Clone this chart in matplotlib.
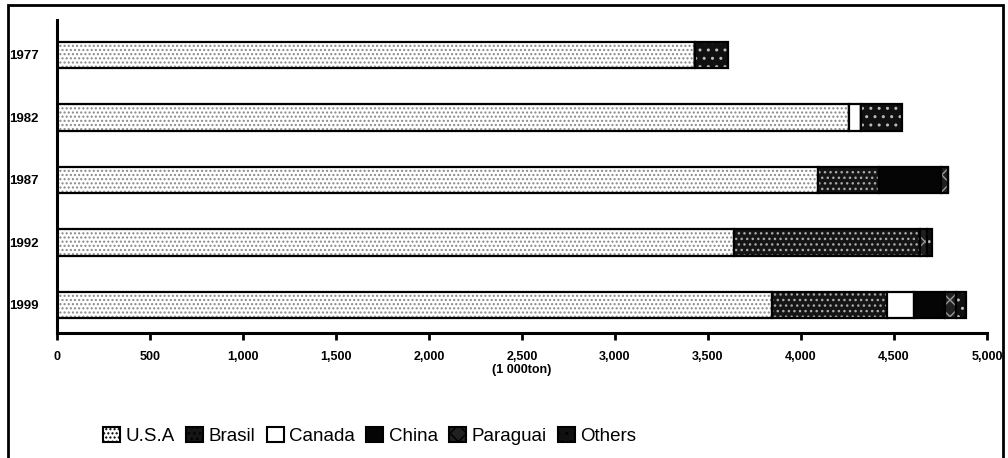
import matplotlib.pyplot as plt
import matplotlib.patches as mpatches
import numpy as np

years = ["1999", "1992", "1987", "1982", "1977"]
series = ["U.S.A", "Brasil", "Canada", "China", "Paraguai", "Others"]
usa = [3845, 3640, 4090, 4260, 3430]
brasil = [620, 1000, 330, 0, 0]
canada = [140, 0, 0, 60, 0]
china = [170, 0, 330, 0, 0]
paraguai = [60, 40, 40, 0, 0]
others = [50, 25, 0, 225, 180]
xticks = [0, 500, 1000, 1500, 2000, 2500, 3000, 3500, 4000, 4500, 5000]

plt.rcParams["font.family"] = ["Liberation Sans", "DejaVu Sans"]

# fill colour, hatch, hatch colour for each series
styles = [
    ("white", "....", "#888888"),
    ("#151515", "...", "#aaaaaa"),
    ("white", "", "black"),
    ("#050505", "", "black"),
    ("#202020", "xx", "#999999"),
    ("#101010", "..", "#bbbbbb"),
]

fig = plt.figure(figsize=(10.08, 4.58), dpi=100)
ax = fig.add_axes([57 / 1008, 125 / 458, 930 / 1008, 313 / 458])

y = np.arange(len(years))
left = np.zeros(len(years))
h = 0.42
for vals, (fc, hatch, hc) in zip([usa, brasil, canada, china, paraguai, others], styles):
    vals = np.array(vals, dtype=float)
    ax.barh(y, vals, left=left, height=h, color=fc, hatch=hatch,
            edgecolor=hc, linewidth=0)
    ax.barh(y, vals, left=left, height=h, facecolor="none",
            edgecolor="black", linewidth=1.6)
    left += vals

ax.set_xlim(0, 5000)
ax.set_ylim(-0.45, 4.56)
ax.set_yticks(y)
ax.set_yticklabels(years, fontsize=9.5, fontweight="bold")
ax.tick_params(axis="y", length=0, pad=13)
ax.set_xticks(xticks)
ax.set_xticklabels([f"{t:,}" for t in xticks], fontsize=9, fontweight="bold")
ax.tick_params(axis="x", length=5, width=2, pad=8)
ax.set_xlabel("(1 000ton)", fontsize=9, fontweight="bold", labelpad=1)
for s in ["top", "right"]:
    ax.spines[s].set_visible(False)
ax.spines["left"].set_linewidth(2.2)
ax.spines["bottom"].set_linewidth(2.2)

handles = []
for (fc, hatch, hc), name in zip(styles, series):
    handles.append(mpatches.Patch(facecolor=fc, hatch=hatch, edgecolor="black",
                                  linewidth=1.5, label=name))
fig.legend(handles=handles, ncol=6, loc="center", bbox_to_anchor=(0.367, 0.048),
           frameon=False, fontsize=13.5, handlelength=0.9, handleheight=0.9,
           handletextpad=0.3, columnspacing=0.6)

# outer frame of the scanned figure
fig.patches.append(mpatches.Rectangle((8 / 1008, -0.01), 995 / 1008, 1.0,
                                      transform=fig.transFigure, fill=False,
                                      edgecolor="black", linewidth=2))

fig.savefig("out.png", dpi=100)
